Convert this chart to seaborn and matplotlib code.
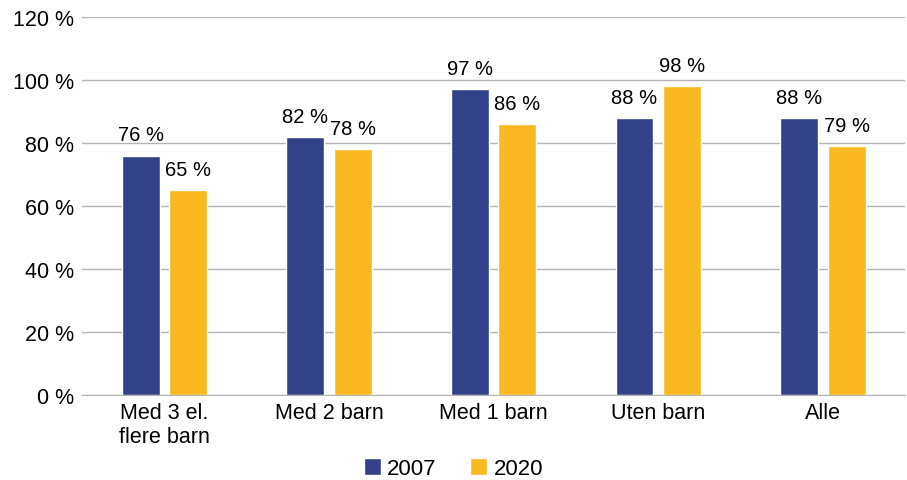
import numpy as np
import pandas as pd
import matplotlib
matplotlib.use("Agg")
import matplotlib.pyplot as plt
import seaborn as sns

categories = ["Med 3 el.\nflere barn", "Med 2 barn", "Med 1 barn", "Uten barn", "Alle"]
years = ["2007", "2020"]
values_2007 = [76, 82, 97, 88, 88]
values_2020 = [65, 78, 86, 98, 79]
colors = ["#334189", "#FBB921"]

df = pd.DataFrame({
    "kategori": categories * 2,
    "aar": [years[0]] * 5 + [years[1]] * 5,
    "andel": values_2007 + values_2020,
})

sns.set_style("white")
plt.rcParams["font.family"] = ["Liberation Sans", "DejaVu Sans"]
plt.rcParams["text.color"] = "black"
plt.rcParams["xtick.color"] = "black"
plt.rcParams["ytick.color"] = "black"

fig = plt.figure(figsize=(9.07, 4.81), dpi=100)
ax = fig.add_axes([0.0904, 0.1767, 0.9076, 0.7859])

sns.barplot(data=df, x="kategori", y="andel", hue="aar", palette=colors,
            width=0.576, gap=0.2, saturation=1, ax=ax, legend=True)

for cont in ax.containers:
    ax.bar_label(cont, labels=[f"{v:.0f} %" for v in cont.datavalues],
                 padding=8, fontsize=14.5, color="black")

ax.set_ylim(0, 120)
ax.set_xlim(-0.5, 4.5)
ax.set_yticks(range(0, 121, 20))
ax.set_yticklabels([f"{t} %" for t in range(0, 121, 20)], fontsize=15.5)
ax.tick_params(axis="x", labelsize=15.5, length=0, pad=5, labelcolor="black")
ax.tick_params(axis="y", length=0, pad=6, labelcolor="black")
ax.set_xlabel("")
ax.set_ylabel("")
ax.yaxis.grid(True, color="#B3B3B3", linewidth=1)
ax.set_axisbelow(True)
for s in ["top", "right", "left"]:
    ax.spines[s].set_visible(False)
ax.spines["bottom"].set_color("#B3B3B3")

handles, labels = ax.get_legend_handles_labels()
ax.get_legend().remove()
fig.legend(handles, labels, loc="lower center", bbox_to_anchor=(0.5, -0.04), ncol=2,
           frameon=False, fontsize=16, handlelength=0.75, handleheight=0.75,
           columnspacing=1.5, handletextpad=0.3, labelcolor="black")

fig.savefig("out.png", dpi=100)
